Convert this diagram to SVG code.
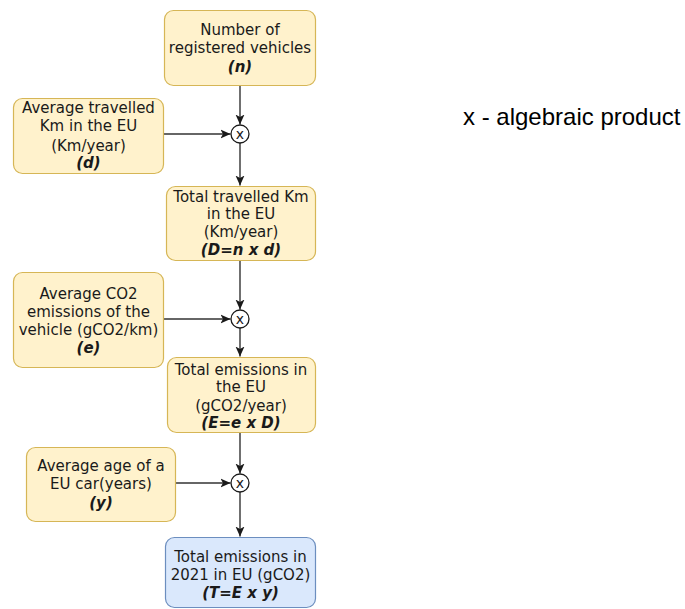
<svg xmlns="http://www.w3.org/2000/svg" width="685" height="609" viewBox="0 0 685 609">
  <style>
    .box { fill: #fff2cc; stroke: #d6b656; stroke-width: 1.2; }
    .result { fill: #dae8fc; stroke: #6c8ebf; stroke-width: 1.2; }
    .lbl { font-family: "DejaVu Sans", Verdana, sans-serif; font-size: 15px; fill: #1a1a1a; text-anchor: middle; }
    .var { font-weight: bold; font-style: italic; }
    .op { fill: #ffffff; stroke: #1a1a1a; stroke-width: 1.3; }
    .opx { font-family: "DejaVu Sans", Verdana, sans-serif; font-size: 14px; fill: #1a1a1a; text-anchor: middle; }
    .edge { fill: none; stroke: #333333; stroke-width: 1.4; }
    .legend { font-family: "Liberation Sans", Arial, sans-serif; font-size: 24px; fill: #000000; }
  </style>
  <defs>
    <marker id="arrow" markerUnits="userSpaceOnUse" markerWidth="11" markerHeight="11" viewBox="0 0 11 11" refX="10" refY="5.5" orient="auto">
      <path d="M0,1 L10,5.5 L0,10 L2.5,5.5 Z" fill="#1a1a1a"/>
    </marker>
  </defs>

  <!-- connectors -->
  <g id="connectors">
    <path class="edge" d="M240,86 V124.5" marker-end="url(#arrow)"/>
    <path class="edge" d="M164,134 H230.5" marker-end="url(#arrow)"/>
    <path class="edge" d="M240,143 V185.5" marker-end="url(#arrow)"/>
    <path class="edge" d="M240,260 V309.5" marker-end="url(#arrow)"/>
    <path class="edge" d="M164,319 H230.5" marker-end="url(#arrow)"/>
    <path class="edge" d="M240,328 V356.5" marker-end="url(#arrow)"/>
    <path class="edge" d="M240,432 V473.5" marker-end="url(#arrow)"/>
    <path class="edge" d="M176,483 H230.5" marker-end="url(#arrow)"/>
    <path class="edge" d="M240,492 V536.5" marker-end="url(#arrow)"/>
  </g>

  <!-- inputs and intermediate quantities -->
  <g id="node-n">
    <rect class="box" x="164.5" y="10.5" width="151" height="75" rx="9"/>
    <text class="lbl" x="240" y="35">Number of</text>
    <text class="lbl" x="240" y="53">registered vehicles</text>
    <text class="lbl var" x="240" y="71.5">(n)</text>
  </g>

  <g id="node-d">
    <rect class="box" x="13.5" y="98.5" width="150" height="75" rx="9"/>
    <text class="lbl" x="88.5" y="113">Average travelled</text>
    <text class="lbl" x="88.5" y="131">Km in the EU</text>
    <text class="lbl" x="88.5" y="151">(Km/year)</text>
    <text class="lbl var" x="88.5" y="168">(d)</text>
  </g>

  <g id="op-1">
    <circle class="op" cx="240" cy="134" r="9"/>
    <text class="opx" x="240" y="138.5">x</text>
  </g>

  <g id="node-D">
    <rect class="box" x="166.5" y="186.5" width="149" height="74" rx="9"/>
    <text class="lbl" x="241" y="202">Total travelled Km</text>
    <text class="lbl" x="241" y="219">in the EU</text>
    <text class="lbl" x="241" y="237">(Km/year)</text>
    <text class="lbl var" x="241" y="255">(D=n x d)</text>
  </g>

  <g id="node-e">
    <rect class="box" x="13.5" y="272.5" width="150" height="95" rx="9"/>
    <text class="lbl" x="88.5" y="299">Average CO2</text>
    <text class="lbl" x="88.5" y="317">emissions of the</text>
    <text class="lbl" x="88.5" y="335">vehicle (gCO2/km)</text>
    <text class="lbl var" x="88.5" y="353">(e)</text>
  </g>

  <g id="op-2">
    <circle class="op" cx="240" cy="319" r="9"/>
    <text class="opx" x="240" y="323.5">x</text>
  </g>

  <g id="node-E">
    <rect class="box" x="167.5" y="357.5" width="148" height="75" rx="9"/>
    <text class="lbl" x="241" y="375">Total emissions in</text>
    <text class="lbl" x="241" y="392">the EU</text>
    <text class="lbl" x="241" y="411">(gCO2/year)</text>
    <text class="lbl var" x="241" y="428">(E=e x D)</text>
  </g>

  <g id="node-y">
    <rect class="box" x="26.5" y="447.5" width="149" height="74" rx="9"/>
    <text class="lbl" x="101" y="471">Average age of a</text>
    <text class="lbl" x="101" y="489">EU car(years)</text>
    <text class="lbl var" x="101" y="508">(y)</text>
  </g>

  <g id="op-3">
    <circle class="op" cx="240" cy="483" r="9"/>
    <text class="opx" x="240" y="487.5">x</text>
  </g>

  <!-- final result -->
  <g id="node-T">
    <rect class="result" x="165.5" y="537.5" width="150" height="70" rx="9"/>
    <text class="lbl" x="240.5" y="562">Total emissions in</text>
    <text class="lbl" x="240.5" y="580">2021 in EU (gCO2)</text>
    <text class="lbl var" x="240.5" y="598">(T=E x y)</text>
  </g>

  <g id="legend">
    <text class="legend" x="463" y="125">x - algebraic product</text>
  </g>
</svg>
